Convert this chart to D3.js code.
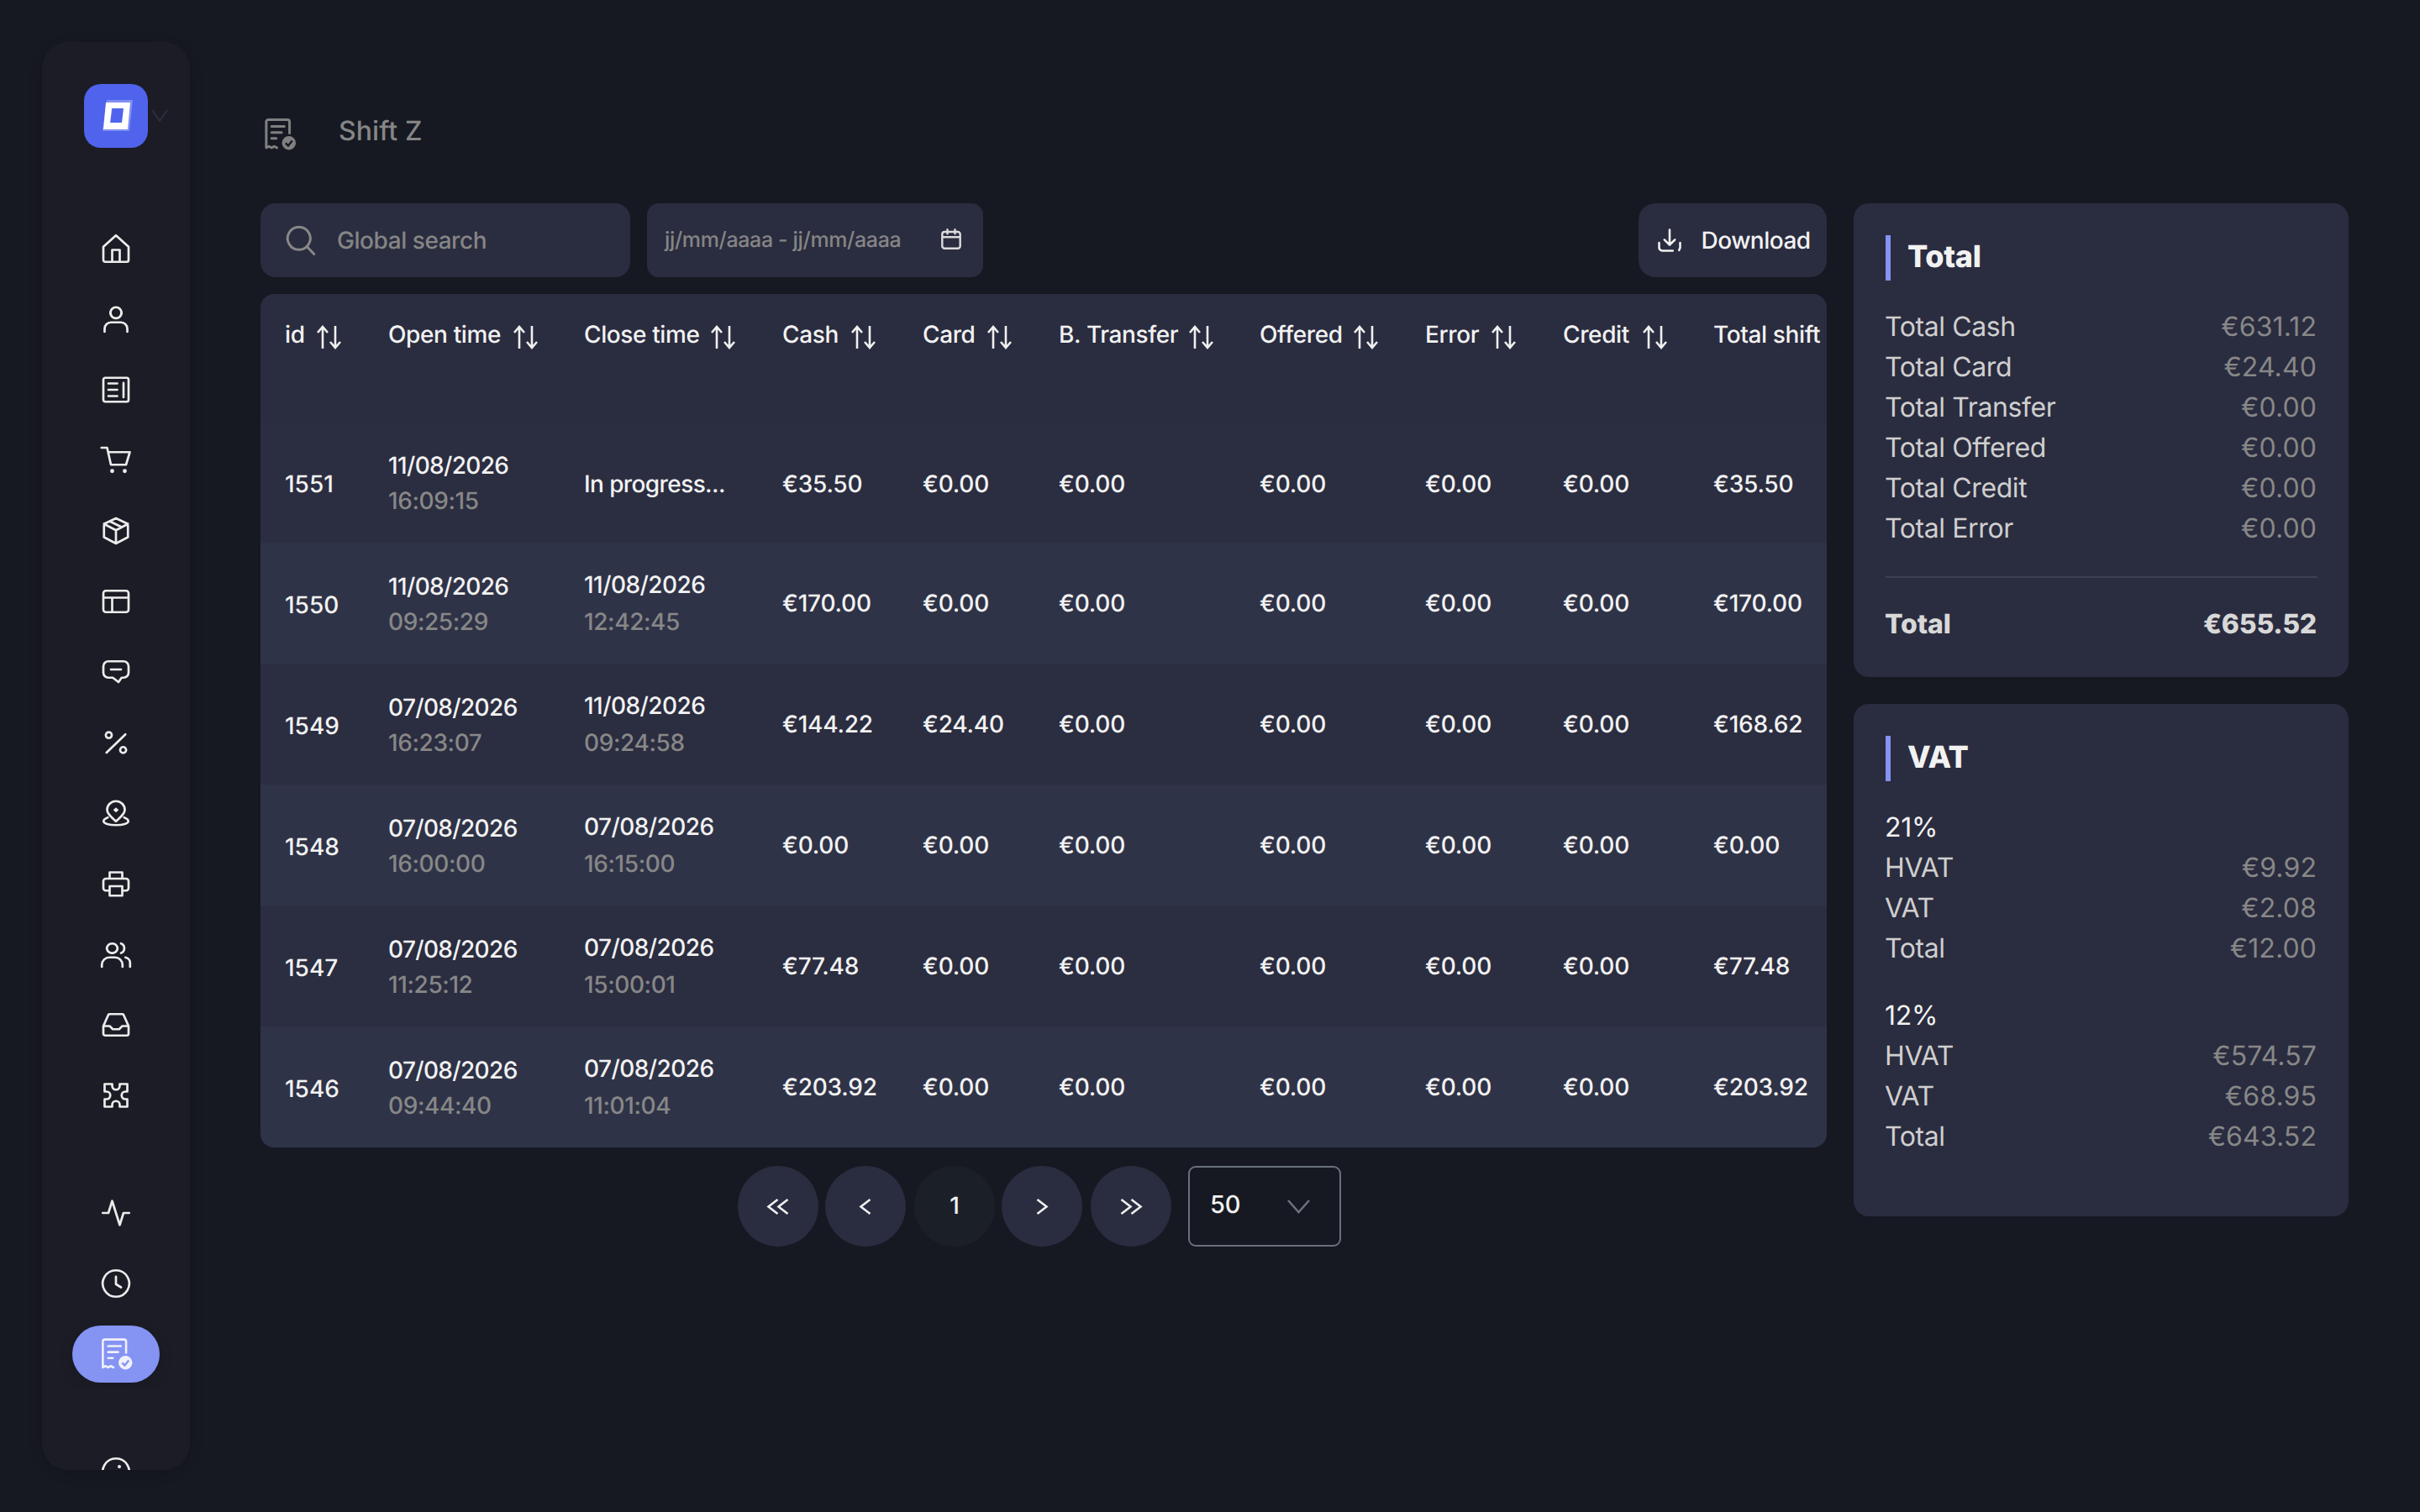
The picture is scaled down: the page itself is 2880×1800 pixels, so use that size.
<!DOCTYPE html>
<html><head><meta charset="utf-8"><title>Shift Z</title>
<script src="https://cdn.jsdelivr.net/npm/d3@7/dist/d3.min.js"></script>
<style>html,body{margin:0;padding:0;background:#161922}svg{display:block}
text{font-family:Inter,"Noto Sans",sans-serif;text-rendering:geometricPrecision}</style></head><body>
<script>
// ---- data ----
const ids=[1551,1550,1549,1548,1547,1546];
const openDates=["11/08/2026","11/08/2026","07/08/2026","07/08/2026","07/08/2026","07/08/2026"];
const openTimes=["16:09:15","09:25:29","16:23:07","16:00:00","11:25:12","09:44:40"];
const closeDates=[null,"11/08/2026","11/08/2026","07/08/2026","07/08/2026","07/08/2026"];
const closeTimes=[null,"12:42:45","09:24:58","16:15:00","15:00:01","11:01:04"];
const cash=[35.50,170.00,144.22,0,77.48,203.92];
const card=[0,0,24.40,0,0,0];
const transfer=[0,0,0,0,0,0];
const offered=[0,0,0,0,0,0];
const errors=[0,0,0,0,0,0];
const credit=[0,0,0,0,0,0];
const totalShift=[35.50,170.00,168.62,0,77.48,203.92];
const columns=["id","Open time","Close time","Cash","Card","B. Transfer","Offered","Error","Credit","Total shift"];
const totalLabels=["Total Cash","Total Card","Total Transfer","Total Offered","Total Credit","Total Error"];
const totalValues=[631.12,24.40,0,0,0,0];
const grandTotal=655.52;
const vatGroups=["21%","12%"];
const vatLabels=["HVAT","VAT","Total"];
const vat21=[9.92,2.08,12.00];
const vat12=[574.57,68.95,643.52];
const pages=["«","‹","1","›","»"];

// ---- layout ----
const W=2880,H=1800;
const C={bg:"#161922",side:"#1b1f28",panel:"#2a2c3f",alt:"#2f3347",white:"#f2f2f2",grey:"#878787",label:"#cfcfcf",accent:"#8593f3"};
const eur=v=>"€"+d3.format(".2f")(v);
const svg=d3.select("body").append("svg").attr("width",W).attr("height",H).attr("viewBox",`0 0 ${W} ${H}`);
const defs=svg.append("defs");
const f=defs.append("filter").attr("id","sh").attr("x","-30%").attr("y","-10%").attr("width","160%").attr("height","120%");
f.append("feDropShadow").attr("dx",0).attr("dy",4).attr("stdDeviation",14).attr("flood-color","#000").attr("flood-opacity",.18);
defs.append("clipPath").attr("id","sideClip").append("rect").attr("x",50).attr("y",50).attr("width",176).attr("height",1700).attr("rx",32);

svg.append("rect").attr("width",W).attr("height",H).attr("fill",C.bg);
const rr=(g,x0,y0,x1,y1,r,fill)=>g.append("rect").attr("x",x0).attr("y",y0).attr("width",x1-x0).attr("height",y1-y0).attr("rx",r).attr("fill",fill);
const label=(g,s,x,y,size,fill,o={})=>g.append("text").attr("x",x).attr("y",y).attr("font-size",size).attr("fill",fill)
  .attr("text-anchor",o.anchor||"start").attr("font-weight",o.w||400).attr("letter-spacing",o.ls||0).text(s);

// icons in a 24-unit box
const P={
 home:"M12 1.5 L22 10.5 V21 a1.5 1.5 0 0 1 -1.5 1.5 H3.5 A1.5 1.5 0 0 1 2 21 V10.5 Z M9 22.5 V13 h6 V22.5",
 user:"M3 22 V19.5 a5 5 0 0 1 5 -5 h8 a5 5 0 0 1 5 5 V22 M12 2.5 a4.4 4.4 0 1 0 0.01 0 Z",
 news:"M3.5 2.5 H20.5 a1.5 1.5 0 0 1 1.5 1.5 V20 a1.5 1.5 0 0 1 -1.5 1.5 H3.5 A1.5 1.5 0 0 1 2 20 V4 A1.5 1.5 0 0 1 3.5 2.5 Z M6 7 H13 M6 12 H13 M6 17 H13 M18 6.5 V18",
 cart:"M0.5 2 H5 L8 15.5 H20 L23 5.5 H5.8",
 box:"M12 2 L21.5 6.5 V17 L12 22 L2.5 17 V6.5 Z M2.5 6.5 L12 11.5 L21.5 6.5 M12 11.5 V22 M7 4.3 L16.5 9",
 table:"M4 3.5 H20 a2 2 0 0 1 2 2 V18.5 a2 2 0 0 1 -2 2 H4 a2 2 0 0 1 -2 -2 V5.5 a2 2 0 0 1 2 -2 Z M2 9 H22 M9 9 V20.5",
 comment:"M6 3.5 H18 a4 4 0 0 1 4 4 V12.5 a4 4 0 0 1 -4 4 H16.5 L14 20 L9.5 16.5 H6 a4 4 0 0 1 -4 -4 V7.5 a4 4 0 0 1 4 -4 Z M8 10 H16",
 percent:"M4.5 20 L19.5 5.5 M6.3 3.7 a2.4 2.4 0 1 0 0.01 0 Z M17.7 15.5 a2.4 2.4 0 1 0 0.01 0 Z",
 pin:"M12 2.5 a7 7 0 0 1 7 7 c0 3.5 -4.5 6.5 -7 9 c-2.5 -2.5 -7 -5.5 -7 -9 a7 7 0 0 1 7 -7 Z M5.5 15.5 C3.5 16.2 2.2 17.2 2.2 18.5 c0 1.7 4.2 3 9.8 3 s9.8 -1.3 9.8 -3 c0 -1.3 -1.3 -2.3 -3.3 -3",
 printer:"M7 8 V3 H17 V8 M7 17.5 H4 a2 2 0 0 1 -2 -2 V10 a2 2 0 0 1 2 -2 H20 a2 2 0 0 1 2 2 V15.5 a2 2 0 0 1 -2 2 H17 M7 14 H17 V21.5 H7 Z",
 users:"M9 3.5 a4.2 3.8 0 1 0 0.01 0 Z M0.8 22 V20.5 a6 6 0 0 1 6 -6 h4.4 a6 6 0 0 1 6 6 V22 M16 3.5 a4 4 0 0 1 0 7.5 M19.5 14.5 a4.5 4.5 0 0 1 3.7 4.5 V22",
 inbox:"M2 13 L6 4 a1.5 1.5 0 0 1 1 -0.5 H17 a1.5 1.5 0 0 1 1 0.5 L22 13 V19 a1.5 1.5 0 0 1 -1.5 1.5 H3.5 A1.5 1.5 0 0 1 2 19 Z M2 13 H7 L9.5 15.5 H14.5 L17 13 H22",
 puzzle:"M3 3 H9 V4.5 a3 3 0 0 0 6 0 V3 H21 V9 H19.5 a3 3 0 0 0 0 6 H21 V21 H15 V19.5 a3 3 0 0 0 -6 0 V21 H3 V15 H4.5 a3 3 0 0 0 0 -6 H3 Z",
 activity:"M1.5 12 H6 L9 2.5 L15 21.5 L18 12 H22.5",
 clock:"M12 1.5 a10.5 10.5 0 1 0 0.01 0 Z M12 6.5 V12.5 L16 15",
 info:"M12 1.5 a10.5 10.5 0 1 0 0.01 0 Z",
 receipt:"M1.5 22 V2.5 a1.5 1.5 0 0 1 1.5 -1.5 H17.5 a1.5 1.5 0 0 1 1.5 1.5 V11 M1.5 22 l2 -1 2 1 2 -1 2 1 M5.5 6 H15 M5.5 10.5 H13 M5.5 15 H9",
 search:"M10.5 1.5 a9 9 0 1 0 0.01 0 Z M16.8 17 L22.5 23",
 calendar:"M5 4 H19 a2.5 2.5 0 0 1 2.5 2.5 V19 a2.5 2.5 0 0 1 -2.5 2.5 H5 A2.5 2.5 0 0 1 2.5 19 V6.5 A2.5 2.5 0 0 1 5 4 Z M2.5 9.5 H21.5 M8 1.5 V6 M16 1.5 V6",
 download:"M12 2 V16 M7 11.5 L12 16.5 L17 11.5 M2 14.5 V19 a3 3 0 0 0 3 3 H15 M22 14.5 V19 L21 21.5"
};
function icon(g,name,cx,cy,size,stroke,sw){
  const k=size/24, n=g.append("g").attr("transform",`translate(${cx-size/2},${cy-size/2}) scale(${k})`);
  n.append("path").attr("d",P[name]).attr("fill","none").attr("stroke",stroke).attr("stroke-width",sw/k).attr("stroke-linecap","round").attr("stroke-linejoin","round");
  return n;
}
function receipt(g,cx,cy,size,stroke,sw,bg){
  const n=icon(g,"receipt",cx,cy,size,stroke,sw);
  n.append("circle").attr("cx",18.5).attr("cy",18.5).attr("r",5.2).attr("fill",stroke);
  n.append("path").attr("d","M16 18.5 L18 20.5 L21 16.8").attr("fill","none").attr("stroke",bg).attr("stroke-width",1.5);
}

// ---- sidebar ----
const side=svg.append("g");
rr(side,50,50,226,1750,32,C.side).attr("filter","url(#sh)");
rr(side,100,100,176,176,20,"#4f63ec");
side.append("path").attr("d","M127 119 L158 119 L154 156 L122 156 Z M134 127 L131 149 L148 149 L151 127 Z").attr("fill","#fff").attr("opacity",.28).attr("fill-rule","evenodd");
side.append("path").attr("d","M126 122 L155 122 L152 154 L123 154 Z M133 129 L131 146 L145 146 L147 129 Z").attr("fill","#fff").attr("fill-rule","evenodd");
side.append("path").attr("d","M181 131 L190 144 L199 131").attr("fill","none").attr("stroke","#2b303a").attr("stroke-width",2);
const navNames=["home","user","news","cart","box","table","comment","percent","pin","printer","users","inbox","puzzle"];
const navY=d3.scalePoint().domain(navNames).range([296,1304]);
navNames.forEach(n=>icon(side,n,138,navY(n),36,"#ececec",2.7));
const cartI=side.append("g").attr("transform",`translate(120,${navY("cart")-18}) scale(1.5)`);
[9,19].forEach(x=>cartI.append("circle").attr("cx",x).attr("cy",20.5).attr("r",1.6).attr("fill","#ececec"));
const pinI=side.append("g").attr("transform",`translate(120,${navY("pin")-18}) scale(1.5)`);
pinI.append("path").attr("d","M12 7.5 L14.2 9.5 L12 11.5 L9.8 9.5 Z").attr("fill","#ececec");
icon(side,"activity",138,1444,36,"#ececec",2.7);
icon(side,"clock",138,1528,36,"#ececec",2.7);
rr(side,86,1578,190,1646,34,C.accent).attr("filter","url(#sh)");
receipt(side,139,1612,38,"#eef0fc",2.6,C.accent);
const infoG=side.append("g").attr("clip-path","url(#sideClip)");
icon(infoG,"info",138,1752,36,"#ececec",2.7);
infoG.append("circle").attr("cx",142).attr("cy",1746).attr("r",2).attr("fill","#ececec");

// ---- heading & toolbar ----
const main=svg.append("g");
receipt(main,333.5,160,38,"#808080",3,C.bg);
label(main,"Shift Z",403,167,32,"#868686",{ls:.1,w:500});
rr(main,310,242,750,330,18,C.panel);
icon(main,"search",358,286,36,"#888",3);
label(main,"Global search",401,296,28,"#858585",{ls:-.45,w:500});
rr(main,770,242,1170,330,14,C.panel);
label(main,"jj/mm/aaaa - jj/mm/aaaa",791,294,25,"#858585",{ls:-.35,w:500});
icon(main,"calendar",1132,285,27,"#dcdcdc",2.4);
rr(main,1950,242,2174,330,20,C.panel);
icon(main,"download",1987,286,30,"#f0f0f0",2.6);
label(main,"Download",2024.5,296,28,C.white,{ls:-.5,w:500});

// ---- table ----
const tableClip=defs.append("clipPath").attr("id","tbl");
tableClip.append("rect").attr("x",310).attr("y",350).attr("width",1864).attr("height",1016).attr("rx",16);
const table=main.append("g").attr("clip-path","url(#tbl)");
const columnX=d3.scaleOrdinal().domain(columns).range([339,462,695,931,1098,1260,1499,1696,1860,2039]);
const sortX=d3.scaleOrdinal().domain(columns).range([378,612,847,1014,1176,1416,1612,1776,1956,null]);
const rowY=d3.scaleBand().domain(ids).range([502,1366]);
table.append("rect").attr("x",310).attr("y",350).attr("width",1864).attr("height",152).attr("fill",C.panel);
table.selectAll("rect.row").data(ids).join("rect").attr("class","row")
  .attr("x",310).attr("width",1864).attr("y",d=>rowY(d)).attr("height",rowY.bandwidth())
  .attr("fill",(d,i)=>i%2?C.alt:"#2b2d40");
columns.forEach(c=>{
  label(table,c,columnX(c),408,28,C.white,{ls:-.38,w:500});
  if(sortX(c)!==null){
    const x=sortX(c);
    const g=table.append("g").attr("fill","none").attr("stroke","#f0f0f0").attr("stroke-width",2.6);
    g.append("path").attr("d",`M${x+6} 415 V389 M${x} 396 L${x+6} 389 L${x+12} 396`);
    g.append("path").attr("d",`M${x+21} 388 V414 M${x+15} 407 L${x+21} 414 L${x+27} 407`);
  }
});
const cellSize=28;
ids.forEach((id,i)=>{
  const y=rowY(id), first=i===0;
  label(table,id,columnX("id"),y+83.5,cellSize,C.white,{ls:0,w:500});
  label(table,openDates[i],columnX("Open time"),y+62,cellSize,C.white,{ls:-.65,w:500});
  label(table,openTimes[i],columnX("Open time"),y+103.5,cellSize,C.grey,{ls:-.4,w:500});
  if(closeDates[i]){
    label(table,closeDates[i],columnX("Close time"),y+60,cellSize,C.white,{ls:-.55,w:500});
    label(table,closeTimes[i],columnX("Close time"),y+103.5,cellSize,C.grey,{ls:-.4,w:500});
  } else label(table,"In progress...",columnX("Close time"),y+83.5,cellSize,C.white,{ls:-.6,w:500});
  const by=y+(first?83.5:81.5);
  [["Cash",cash],["Card",card],["B. Transfer",transfer],["Offered",offered],["Error",errors],["Credit",credit],["Total shift",totalShift]]
    .forEach(([c,s])=>label(table,eur(s[i]),columnX(c),by,cellSize,C.white,{ls:-.2,w:500}));
});

// ---- pagination ----
const pageX=d3.scaleOrdinal().domain(pages).range([926,1030,1136,1240,1346]);
pages.forEach(p=>{
  main.append("circle").attr("cx",pageX(p)).attr("cy",1436).attr("r",48).attr("fill",p==="1"?C.side:C.panel);
  if(p==="1") label(main,p,pageX(p),1445,28,C.white,{anchor:"middle",w:500});
});
const chev=(x,dir)=>main.append("path").attr("d",`M${x+dir*5.5} 1428 L${x-dir*5.5} 1436.5 L${x+dir*5.5} 1445`).attr("fill","none").attr("stroke","#f0f0f0").attr("stroke-width",2.6);
chev(pageX("«")-6,1);chev(pageX("«")+6,1);chev(pageX("‹"),1);chev(pageX("›"),-1);chev(pageX("»")-6,-1);chev(pageX("»")+6,-1);
main.append("rect").attr("x",1415).attr("y",1389).attr("width",180).attr("height",94).attr("rx",8).attr("fill","none").attr("stroke","#6a707c").attr("stroke-width",2);
label(main,"50",1440,1444,29,C.white,{ls:-.3,w:500});
main.append("path").attr("d","M1533 1429 L1545.5 1443 L1558 1429").attr("fill","none").attr("stroke","#6a707c").attr("stroke-width",2.6);

// ---- right panels ----
const R=svg.append("g"), Lx=2243, Vx=2757;
rr(R,2206,242,2795,806,18,C.panel);
rr(R,2244,280,2250,334,0,C.accent);
label(R,"Total",2270,318,36,C.white,{w:800,ls:-.3});
const totalY=d3.scalePoint().domain(totalLabels).range([400,640]);
totalLabels.forEach((l,i)=>{
  label(R,l,Lx,totalY(l),32,C.label,{ls:-.4});
  label(R,eur(totalValues[i]),Vx,totalY(l),32,C.grey,{anchor:"end",ls:.1});
});
R.append("line").attr("x1",2244).attr("x2",2758).attr("y1",687).attr("y2",687).attr("stroke","#3d4051").attr("stroke-width",2);
label(R,"Total",Lx,754,32,"#d8d8d8",{w:800,ls:-.1});
label(R,eur(grandTotal),Vx,754,32,"#d8d8d8",{anchor:"end",w:800,ls:-.25});

rr(R,2206,838,2795,1448,18,C.panel);
rr(R,2244,876,2250,930,0,C.accent);
label(R,"VAT",2270,914,36,C.white,{w:800,ls:-.3});
[[vatGroups[0],vat21,995.5],[vatGroups[1],vat12,1219.5]].forEach(([g,vals,y0])=>{
  label(R,g,Lx,y0,32,C.white,{ls:-.3});
  const y=d3.scalePoint().domain(vatLabels).range([y0+48,y0+144]);
  vatLabels.forEach((l,i)=>{
    label(R,l,Lx,y(l),32,C.label,{ls:-.4});
    label(R,eur(vals[i]),Vx,y(l),32,C.grey,{anchor:"end",ls:.1});
  });
});
</script></body></html>
